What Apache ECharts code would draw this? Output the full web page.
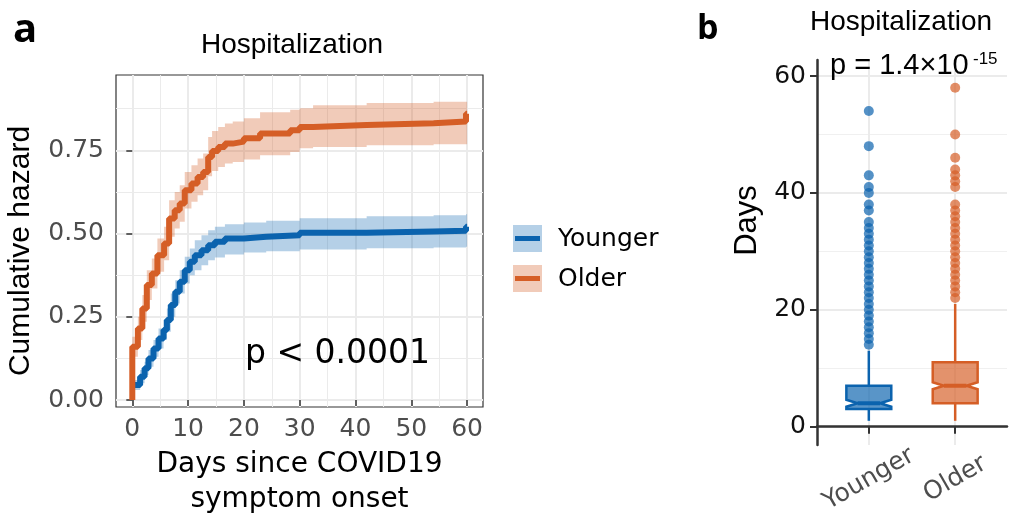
<!DOCTYPE html>
<html>
<head>
<meta charset="utf-8">
<script src="https://cdn.jsdelivr.net/npm/echarts@6/dist/echarts.min.js"></script>
<style>
html, body { margin: 0; padding: 0; background: #fff; }
#chart { width: 1012px; height: 525px; }
</style>
</head>
<body>
<div id="chart"></div>
<script>
// panel a: cumulative hazard, step times (days) with estimate and CI
const youngDays  = [0, 1.4, 2.2, 2.9, 3.8, 4.7, 5.6, 6.2, 6.9, 7.7, 8.5, 9.4, 10.3, 11.2, 12.4, 13.6, 14.8, 16.6, 20, 24, 30, 42, 54, 59.8];
const youngHaz   = [0.045, 0.07, 0.095, 0.125, 0.155, 0.185, 0.21, 0.24, 0.285, 0.325, 0.355, 0.39, 0.415, 0.435, 0.45, 0.465, 0.475, 0.485, 0.49, 0.495, 0.502, 0.506, 0.508, 0.52];
const youngLower = [0.03, 0.05, 0.075, 0.1, 0.13, 0.155, 0.18, 0.205, 0.25, 0.29, 0.32, 0.35, 0.375, 0.39, 0.405, 0.42, 0.428, 0.437, 0.443, 0.447, 0.452, 0.456, 0.458, 0.46];
const youngUpper = [0.06, 0.09, 0.115, 0.15, 0.18, 0.215, 0.24, 0.275, 0.32, 0.36, 0.39, 0.43, 0.455, 0.48, 0.495, 0.51, 0.52, 0.528, 0.533, 0.538, 0.546, 0.552, 0.555, 0.558];

const oldDays  = [0, 1, 1.8, 2.6, 3.5, 4.5, 5.7, 6.6, 7.6, 8.5, 9.4, 10.6, 11.7, 12.7, 13.6, 14.3, 15.4, 16.6, 18, 20, 22.9, 28.3, 30, 32.4, 42, 54, 59.8];
const oldHaz   = [0.16, 0.215, 0.275, 0.345, 0.38, 0.435, 0.47, 0.545, 0.57, 0.59, 0.63, 0.65, 0.67, 0.685, 0.73, 0.748, 0.76, 0.77, 0.776, 0.786, 0.8, 0.81, 0.82, 0.826, 0.831, 0.836, 0.86];
const oldLower = [0.13, 0.18, 0.235, 0.3, 0.335, 0.385, 0.42, 0.49, 0.515, 0.535, 0.575, 0.595, 0.615, 0.63, 0.672, 0.688, 0.7, 0.71, 0.715, 0.722, 0.735, 0.745, 0.756, 0.76, 0.765, 0.768, 0.768];
const oldUpper = [0.19, 0.25, 0.315, 0.39, 0.425, 0.485, 0.52, 0.6, 0.625, 0.645, 0.685, 0.705, 0.725, 0.74, 0.79, 0.808, 0.82, 0.83, 0.836, 0.846, 0.864, 0.872, 0.876, 0.885, 0.892, 0.896, 0.896];

const lastDay = 60;
const dayTicks = [0, 10, 20, 30, 40, 50, 60];
const hazTicks = [0, 0.25, 0.5, 0.75];

// panel b: days to hospitalization boxplots
const boxCats = ['Younger', 'Older'];
const youngBox = [1, 3, 4, 7, 13];     // whisker low, q1, median, q3, whisker high
const oldBox = [1, 4, 7, 11, 21];
const youngNotch = [3.4, 4.6];
const oldNotch = [6.4, 7.6];
const youngOut = [14, 15, 16, 17, 18, 19, 20, 21, 22, 23, 24, 25, 26, 27, 28, 29, 30, 31, 32, 33, 34, 35, 37, 38, 40, 41, 43, 48, 54];
const oldOut = [22, 23, 24, 25, 26, 27, 28, 29, 30, 31, 32, 33, 34, 35, 36, 37, 38, 41, 42, 43, 44, 46, 50, 58];
const daysTicks = [0, 20, 40, 60];

const blue = '#0b63ae';
const orange = '#d55e26';
const blueBand = 'rgba(11,99,174,0.3)';
const orangeBand = 'rgba(213,94,38,0.32)';

function stepLine(days, vals) {
    const pts = days.map((d, i) => [d, vals[i]]);
    pts.push([lastDay, vals[vals.length - 1]]);
    return pts;
}

function bandItem(days, lower, upper, color) {
    return function (params, api) {
        if (params.dataIndex !== 0) return null;
        const top = [];
        const bottom = [];
        days.forEach((d, i) => {
            const next = i + 1 < days.length ? days[i + 1] : lastDay;
            top.push(api.coord([d, upper[i]]), api.coord([next, upper[i]]));
            bottom.push(api.coord([d, lower[i]]), api.coord([next, lower[i]]));
        });
        return {
            type: 'polygon',
            shape: { points: top.concat(bottom.reverse()) },
            style: { fill: color }
        };
    };
}

const boxHalf = 0.26;
function boxItem(params, api) {
    const x = api.value(0);
    const lo = api.value(1), q1 = api.value(2), med = api.value(3), q3 = api.value(4), hi = api.value(5);
    const nLo = api.value(6), nHi = api.value(7);
    const color = params.dataIndex === 0 ? blue : orange;
    const fill = params.dataIndex === 0 ? 'rgba(11,99,174,0.68)' : 'rgba(213,94,38,0.68)';
    const P = (dx, y) => api.coord([x + dx, y]);
    const w = boxHalf, n = boxHalf / 2;
    const seg = (a, b, lw) => ({
        type: 'line',
        shape: { x1: a[0], y1: a[1], x2: b[0], y2: b[1] },
        style: { stroke: color, lineWidth: lw }
    });
    return {
        type: 'group',
        children: [
            seg(P(0, q3), P(0, hi), 2.5),
            seg(P(0, lo), P(0, q1), 2.5),
            {
                type: 'polygon',
                shape: { points: [P(-w, q1), P(w, q1), P(w, nLo), P(n, med), P(w, nHi), P(w, q3), P(-w, q3), P(-w, nHi), P(-n, med), P(-w, nLo)] },
                style: { fill: fill, stroke: color, lineWidth: 2.5 }
            },
            seg(P(-n, med), P(n, med), 4)
        ]
    };
}

const tickFont = 'DejaVu Sans';
const textFont = 'Liberation Sans';

function label(x, y, text, size, extra) {
    return {
        type: 'text', x: x, y: y, z: 100,
        style: Object.assign({ text: text, fontSize: size, fontFamily: textFont, fill: '#000', verticalAlign: 'middle' }, extra || {})
    };
}

const chart = echarts.init(document.getElementById('chart'), null, { renderer: 'canvas' });
chart.setOption({
    backgroundColor: '#fff',
    animation: false,
    grid: [
        { left: 116, top: 75, width: 367, height: 332, show: true, borderColor: '#333', borderWidth: 1.2, backgroundColor: '#fff' },
        { left: 817, top: 60, width: 190, height: 385 }
    ],
    xAxis: [
        {
            type: 'value', gridIndex: 0, min: -2.92, max: 62.85, minInterval: 10, maxInterval: 10,
            axisLine: { show: false },
            axisTick: { show: true, customValues: dayTicks, length: 6, lineStyle: { color: '#333', width: 1.5 } },
            axisLabel: { customValues: dayTicks, color: '#4d4d4d', fontSize: 25, fontFamily: tickFont, margin: 10 },
            splitLine: { show: true, lineStyle: { color: '#ebebeb', width: 2 } },
            minorSplitLine: { show: true, lineStyle: { color: '#ebebeb', width: 1 } },
            minorTick: { show: false, splitNumber: 2 },
            name: 'Days since COVID19\nsymptom onset', nameLocation: 'middle', nameGap: 38,
            nameTextStyle: { color: '#000', fontSize: 28, fontFamily: tickFont, lineHeight: 35 }
        },
        {
            type: 'value', gridIndex: 1, min: 0.4, max: 2.6,
            axisLine: { show: true, lineStyle: { color: '#333', width: 2.5 } },
            axisTick: { show: true, customValues: [1, 2], length: 7, lineStyle: { color: '#333', width: 2 } },
            axisLabel: {
                customValues: [1, 2], formatter: v => boxCats[Math.round(v) - 1],
                rotate: 30, align: 'center', verticalAlign: 'middle', margin: 34,
                color: '#4d4d4d', fontSize: 25, fontFamily: tickFont
            },
            splitLine: { show: true, lineStyle: { color: '#ebebeb', width: 2 } }
        }
    ],
    yAxis: [
        {
            type: 'value', gridIndex: 0, min: -0.021, max: 0.976, minInterval: 0.25, maxInterval: 0.25,
            axisLine: { show: false },
            axisTick: { show: true, customValues: hazTicks, length: 6, lineStyle: { color: '#333', width: 1.5 } },
            axisLabel: { customValues: hazTicks, formatter: v => v.toFixed(2), color: '#4d4d4d', fontSize: 25, fontFamily: tickFont, margin: 12 },
            splitLine: { show: true, lineStyle: { color: '#ebebeb', width: 2 } },
            minorSplitLine: { show: true, lineStyle: { color: '#ebebeb', width: 1 } },
            minorTick: { show: false, splitNumber: 2 },
            name: 'Cumulative hazard', nameLocation: 'middle', nameGap: 80,
            nameTextStyle: { color: '#000', fontSize: 30, fontFamily: textFont, padding: [0, 20, 0, 0] }
        },
        {
            type: 'value', gridIndex: 1, min: -3.14, max: 62.74, minInterval: 20, maxInterval: 20,
            axisLine: { show: true, lineStyle: { color: '#333', width: 2.5 } },
            axisTick: { show: true, customValues: daysTicks, length: 7, lineStyle: { color: '#333', width: 2 } },
            axisLabel: { customValues: daysTicks, color: '#111', fontSize: 25, fontFamily: tickFont, margin: 11 },
            splitLine: { show: true, lineStyle: { color: '#ebebeb', width: 2 } },
            minorSplitLine: { show: true, lineStyle: { color: '#f0f0f0', width: 1.2 } },
            minorTick: { show: false, splitNumber: 2 },
            name: 'Days', nameLocation: 'middle', nameGap: 54,
            nameTextStyle: { color: '#000', fontSize: 31, fontFamily: textFont, padding: [0, 0, 0, 64] }
        }
    ],
    series: [
        {
            type: 'custom', name: 'Younger band', xAxisIndex: 0, yAxisIndex: 0, clip: true, silent: true,
            renderItem: bandItem(youngDays, youngLower, youngUpper, blueBand),
            data: youngDays.map((d, i) => [d, youngLower[i], youngUpper[i]]),
            encode: { x: 0, y: [1, 2] }
        },
        {
            type: 'custom', name: 'Older band', xAxisIndex: 0, yAxisIndex: 0, clip: true, silent: true,
            renderItem: bandItem(oldDays, oldLower, oldUpper, orangeBand),
            data: oldDays.map((d, i) => [d, oldLower[i], oldUpper[i]]),
            encode: { x: 0, y: [1, 2] }
        },
        {
            type: 'line', name: 'Younger', xAxisIndex: 0, yAxisIndex: 0, step: 'end', showSymbol: false,
            data: stepLine(youngDays, youngHaz),
            lineStyle: { color: blue, width: 6 }, itemStyle: { color: blue }
        },
        {
            type: 'line', name: 'Older', xAxisIndex: 0, yAxisIndex: 0, step: 'end', showSymbol: false,
            data: [[0, 0]].concat(stepLine(oldDays, oldHaz)),
            lineStyle: { color: orange, width: 6 }, itemStyle: { color: orange }
        },
        {
            type: 'custom', name: 'boxes', xAxisIndex: 1, yAxisIndex: 1, renderItem: boxItem,
            data: [[1].concat(youngBox, youngNotch), [2].concat(oldBox, oldNotch)],
            encode: { x: 0, y: [1, 5] }
        },
        {
            type: 'scatter', name: 'Younger outliers', xAxisIndex: 1, yAxisIndex: 1, symbolSize: 10,
            data: youngOut.map(v => [1, v]), itemStyle: { color: blue, opacity: 0.7 }
        },
        {
            type: 'scatter', name: 'Older outliers', xAxisIndex: 1, yAxisIndex: 1, symbolSize: 10,
            data: oldOut.map(v => [2, v]), itemStyle: { color: orange, opacity: 0.7 }
        }
    ],
    graphic: [
        label(13, 31, 'a', 40, { fontWeight: 'bold', fontFamily: 'Open Sans' }),
        label(697, 29, 'b', 34, { fontWeight: 'bold', fontFamily: 'Open Sans' }),
        label(292, 45, 'Hospitalization', 28, { align: 'center' }),
        label(901, 22, 'Hospitalization', 28, { align: 'center' }),
        label(245, 354, 'p < 0.0001', 33, { fontFamily: tickFont }),
        label(830, 66, 'p = 1.4×10', 29),
        label(973, 59, '-15', 17),
        // legend keys
        { type: 'rect', z: 100, shape: { x: 513, y: 225, width: 29, height: 27 }, style: { fill: blueBand } },
        { type: 'line', z: 100, shape: { x1: 515, y1: 238.5, x2: 540, y2: 238.5 }, style: { stroke: blue, lineWidth: 5 } },
        label(558, 239, 'Younger', 25, { fontFamily: tickFont }),
        { type: 'rect', z: 100, shape: { x: 513, y: 265, width: 29, height: 27 }, style: { fill: orangeBand } },
        { type: 'line', z: 100, shape: { x1: 515, y1: 278.5, x2: 540, y2: 278.5 }, style: { stroke: orange, lineWidth: 5 } },
        label(558, 279, 'Older', 25, { fontFamily: tickFont })
    ]
});
</script>
</body>
</html>
